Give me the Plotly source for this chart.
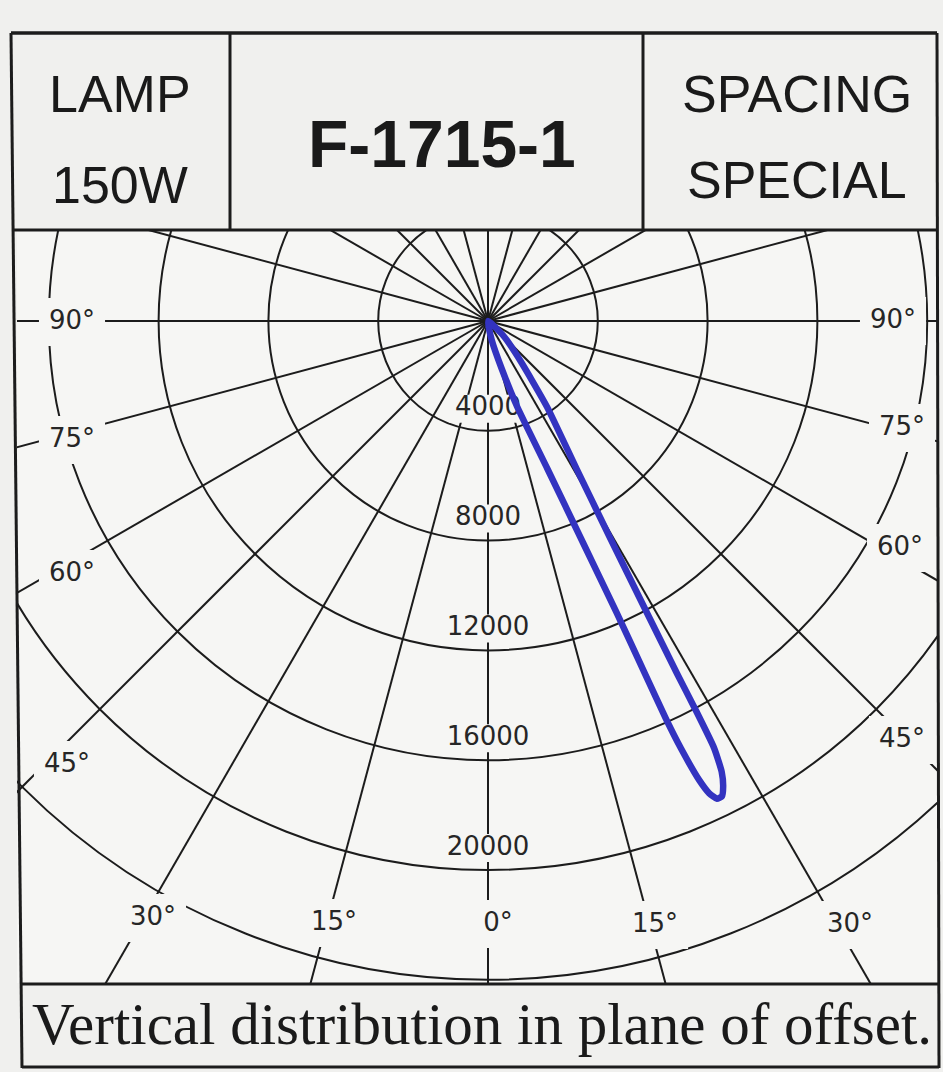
import numpy as np
import plotly.graph_objects as go

# ---- chart content -------------------------------------------------------
lamp_label = ["LAMP", "150W"]
fixture_id = "F-1715-1"
spacing_label = ["SPACING", "SPECIAL"]
caption = "Vertical distribution in plane of offset."

# candela rings and radial spokes (degrees measured from nadir)
ring_cd = [4000, 8000, 12000, 16000, 20000, 24000]
ring_text = ["4000", "8000", "12000", "16000", "20000"]
spoke_deg = list(range(0, 360, 15))
angle_text = ["90°", "75°", "60°", "45°", "30°", "15°", "0°",
              "15°", "30°", "45°", "60°", "75°", "90°"]

# beam outline: angle from nadir (deg) and intensity (cd), traced around the lobe
beam_deg = [0, 11, 16, 18.8, 21.9, 23.2, 23.8, 24.0, 24.1, 24.3, 24.7, 25.1, 25.6,
            26.2, 26.8, 27.4, 27.9, 28.1, 28.2, 28.6, 29.4, 30.9, 34.5, 39, 46, 0]
beam_cd = [0, 700, 1800, 3300, 5800, 8800, 11600, 14200, 15900, 17100, 18400, 19000, 19300,
           19300, 19000, 18500, 17600, 16000, 14600, 12000, 9000, 6300, 3800, 1900, 800, 0]

# ---- page geometry (pixels) ---------------------------------------------
W, H = 943, 1072
POLE_X, POLE_Y = 488, 321          # lamp position on the page
PX_PER_CD = 109.8 / 4000           # radial scale
PLOT_L, PLOT_R, PLOT_T, PLOT_B = 17, 937, 231, 983

INK = "#1c1c1c"
PAPER = "#f0f0ee"
FIELD = "#f6f6f4"
BEAM = "#3333c0"
NUM_FONT = "DejaVu Sans"


def to_data(px, py):
    return (px - POLE_X) / PX_PER_CD, (POLE_Y - py) / PX_PER_CD


def paper(px, py):
    return px / W, 1 - py / H


x_lo, _ = to_data(PLOT_L, 0)
x_hi, _ = to_data(PLOT_R, 0)
_, y_hi = to_data(0, PLOT_T)
_, y_lo = to_data(0, PLOT_B)

shapes = []

# polar grid: rings and spokes, clipped to the chart field
for r in ring_cd:
    shapes.append(dict(type="circle", xref="x", yref="y", x0=-r, y0=-r, x1=r, y1=r,
                       line=dict(color=INK, width=2), layer="below"))
far = 60000
for a in spoke_deg:
    t = np.radians(a)
    shapes.append(dict(type="line", xref="x", yref="y", x0=0, y0=0,
                       x1=far * np.sin(t), y1=-far * np.cos(t),
                       line=dict(color=INK, width=2), layer="below"))

# label placement (page pixels)
ring_label_lift = 22
angle_label_px = [(72, 322), (72, 440), (72, 574), (67, 765), (153, 918), (334, 923),
                  (498, 924), (655, 925), (850, 925), (902, 740), (900, 548),
                  (902, 428), (893, 321)]

NUM_SIZE = 26


def text_width(s, size):
    w = 0
    for ch in s:
        w += 0.5 if ch == "°" else 0.636
    return w * size


lab_x, lab_y, lab_t = [], [], []

for r, s in zip(ring_cd, ring_text):
    py = POLE_Y + r * PX_PER_CD - ring_label_lift
    x, y = to_data(POLE_X, py)
    lab_x.append(x); lab_y.append(y); lab_t.append(s)
    hw = text_width(s, NUM_SIZE) / 2 + 6
    hh = 14
    x0, y0 = to_data(POLE_X - hw, py + hh)
    x1, y1 = to_data(POLE_X + hw, py - hh)
    shapes.append(dict(type="rect", xref="x", yref="y", x0=x0, y0=y0, x1=x1, y1=y1,
                       fillcolor=FIELD, line=dict(width=0), layer="below"))

for (px, py), s in zip(angle_label_px, angle_text):
    x, y = to_data(px, py)
    lab_x.append(x); lab_y.append(y); lab_t.append(s)
    hw = text_width(s, NUM_SIZE) / 2 + 10
    hh = 24
    x0, y0 = to_data(px - hw, py + hh)
    x1, y1 = to_data(px + hw, py - hh)
    shapes.append(dict(type="rect", xref="x", yref="y", x0=x0, y0=y0, x1=x1, y1=y1,
                       fillcolor=FIELD, line=dict(width=0), layer="below"))

# frame and header cells (page pixels)
frame = [
    ((11, 33), (937, 33), 3.5),
    ((11, 33), (22, 1068), 3),
    ((937, 33), (939, 1068), 3),
    ((12, 230), (937, 230), 3),
    ((230, 33), (230, 230), 3),
    ((643, 33), (643, 230), 3),
    ((20, 984), (939, 984), 3),
    ((22, 1067), (939, 1067), 3),
]
for (ax, ay), (bx, by), w in frame:
    x0, y0 = paper(ax, ay)
    x1, y1 = paper(bx, by)
    shapes.append(dict(type="line", xref="paper", yref="paper", x0=x0, y0=y0, x1=x1, y1=y1,
                       line=dict(color=INK, width=w), layer="above"))

fig = go.Figure()

fig.add_trace(go.Scatter(
    x=lab_x, y=lab_y, text=lab_t, mode="text",
    textfont=dict(family=NUM_FONT, size=NUM_SIZE, color="#262626"),
    textposition="middle center", hoverinfo="skip", cliponaxis=False, showlegend=False))

bd = np.radians(np.array(beam_deg, dtype=float))
bc = np.array(beam_cd, dtype=float)
fig.add_trace(go.Scatter(
    x=bc * np.sin(bd), y=-bc * np.cos(bd), mode="lines",
    line=dict(color=BEAM, width=6.5, shape="spline", smoothing=0.5),
    hoverinfo="skip", showlegend=False))

annotations = []


def note(text, px, py, size, family="Liberation Sans", bold=False):
    x, y = paper(px, py)
    annotations.append(dict(
        text=f"<b>{text}</b>" if bold else text, x=x, y=y, xref="paper", yref="paper",
        xanchor="center", yanchor="middle", showarrow=False,
        font=dict(family=family, size=size, color="#1a1a1a")))


note(lamp_label[0], 120, 94, 52)
note(lamp_label[1], 120, 185, 52)
note(fixture_id, 442, 144, 66, bold=True)
note(spacing_label[0], 797, 94, 52)
note(spacing_label[1], 797, 180, 52)
note(caption, 482, 1024, 59, family="Liberation Serif")

fig.update_layout(
    width=W, height=H,
    margin=dict(l=0, r=0, t=0, b=0),
    paper_bgcolor=PAPER,
    plot_bgcolor=FIELD,
    shapes=shapes,
    annotations=annotations,
    xaxis=dict(range=[x_lo, x_hi], domain=[PLOT_L / W, PLOT_R / W], visible=False,
               fixedrange=True),
    yaxis=dict(range=[y_lo, y_hi], domain=[1 - PLOT_B / H, 1 - PLOT_T / H], visible=False,
               fixedrange=True),
    showlegend=False,
)

fig.write_html("out.html")
